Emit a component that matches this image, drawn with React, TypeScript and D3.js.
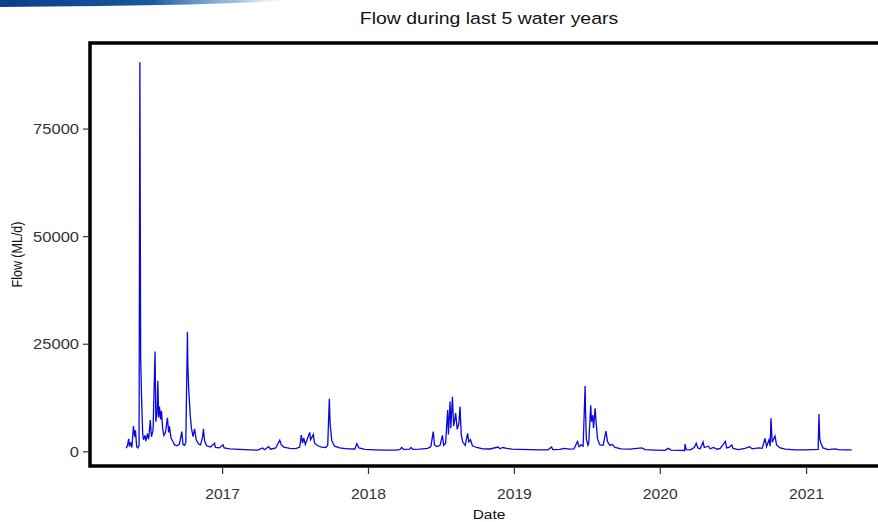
import * as d3 from "d3"

// daily flow, sampled at the turning points of the hydrograph
const dates = [
  "2016-05-05", "2016-05-08", "2016-05-11", "2016-05-13", "2016-05-16", "2016-05-19", "2016-05-23", "2016-05-26",
  "2016-05-28", "2016-05-31", "2016-06-03", "2016-06-06", "2016-06-08", "2016-06-10", "2016-06-12", "2016-06-15",
  "2016-06-17", "2016-06-21", "2016-06-23", "2016-06-27", "2016-06-30", "2016-07-04", "2016-07-07", "2016-07-11",
  "2016-07-16", "2016-07-18", "2016-07-21", "2016-07-23", "2016-07-25", "2016-07-27", "2016-07-30", "2016-08-01",
  "2016-08-04", "2016-08-07", "2016-08-11", "2016-08-16", "2016-08-19", "2016-08-21", "2016-08-25", "2016-08-29",
  "2016-09-03", "2016-09-09", "2016-09-15", "2016-09-21", "2016-09-24", "2016-09-28", "2016-10-01", "2016-10-05",
  "2016-10-06", "2016-10-08", "2016-10-12", "2016-10-15", "2016-10-19", "2016-10-23", "2016-10-27", "2016-11-02",
  "2016-11-07", "2016-11-12", "2016-11-14", "2016-11-17", "2016-11-22", "2016-12-02", "2016-12-12", "2016-12-14",
  "2016-12-24", "2017-01-02", "2017-01-05",
  "2017-01-19", "2017-02-13", "2017-03-10", "2017-03-30", "2017-04-11", "2017-04-16", "2017-04-26", "2017-05-01",
  "2017-05-14", "2017-05-24", "2017-05-28", "2017-06-03", "2017-06-18", "2017-07-03", "2017-07-13", "2017-07-17",
  "2017-07-20", "2017-07-23", "2017-07-27", "2017-07-30", "2017-08-07", "2017-08-09", "2017-08-12", "2017-08-16",
  "2017-08-19", "2017-08-27", "2017-09-06", "2017-09-16", "2017-09-21", "2017-09-25", "2017-09-27", "2017-10-01",
  "2017-10-08", "2017-10-21", "2017-11-10", "2017-11-28", "2017-12-03", "2017-12-08", "2017-12-23",
  "2018-01-17", "2018-02-11", "2018-03-08", "2018-03-20", "2018-03-25", "2018-03-30", "2018-04-14", "2018-04-17",
  "2018-04-22", "2018-05-09", "2018-05-29", "2018-06-06", "2018-06-12", "2018-06-15", "2018-06-21", "2018-06-29",
  "2018-07-05", "2018-07-08", "2018-07-13", "2018-07-18", "2018-07-20", "2018-07-24", "2018-07-26", "2018-07-30",
  "2018-08-02", "2018-08-05", "2018-08-07", "2018-08-11", "2018-08-15", "2018-08-18", "2018-08-21", "2018-08-25",
  "2018-08-31", "2018-09-06", "2018-09-09", "2018-09-13", "2018-09-18", "2018-09-29", "2018-10-14", "2018-11-01",
  "2018-11-21", "2018-11-26", "2018-12-03", "2018-12-13", "2018-12-26",
  "2019-01-15", "2019-02-09", "2019-03-06", "2019-03-26", "2019-04-04", "2019-04-07", "2019-04-25", "2019-05-05",
  "2019-05-18", "2019-05-30", "2019-06-08", "2019-06-12", "2019-06-17", "2019-06-22", "2019-06-27", "2019-06-28",
  "2019-06-30", "2019-07-04", "2019-07-06", "2019-07-11", "2019-07-13", "2019-07-16", "2019-07-18", "2019-07-22",
  "2019-07-24", "2019-07-28", "2019-08-03", "2019-08-11", "2019-08-18", "2019-08-22", "2019-08-28", "2019-09-03",
  "2019-09-10", "2019-09-25", "2019-10-17", "2019-11-16", "2019-11-24", "2019-12-19",
  "2020-01-13", "2020-01-21", "2020-01-28", "2020-02-19", "2020-03-02", "2020-03-03", "2020-03-06", "2020-03-16",
  "2020-03-26", "2020-03-31", "2020-04-04", "2020-04-10", "2020-04-17", "2020-04-20", "2020-04-30", "2020-05-05",
  "2020-05-13", "2020-05-22", "2020-05-30", "2020-06-12", "2020-06-15", "2020-06-22", "2020-06-28", "2020-07-01",
  "2020-07-14", "2020-07-31", "2020-08-11", "2020-08-18", "2020-09-02", "2020-09-12", "2020-09-19", "2020-09-23",
  "2020-09-29", "2020-10-02", "2020-10-04", "2020-10-07", "2020-10-14", "2020-10-18", "2020-10-27", "2020-11-09",
  "2020-12-04", "2020-12-29",
  "2021-01-15", "2021-01-30", "2021-02-01", "2021-02-03", "2021-02-06", "2021-02-11", "2021-02-24", "2021-03-13",
  "2021-03-21", "2021-04-07", "2021-04-24",
]

const flows = [
  800, 1500, 3000, 1200, 2200, 1000, 6000, 3500,
  5000, 1200, 900, 1500, 90500, 22000, 13500, 4400,
  2800, 3800, 2500, 4200, 2900, 7400, 3500, 5000,
  23300, 7000, 9000, 16500, 8000, 10500, 7500, 9500,
  5500, 3800, 4400, 7900, 4500, 5900, 3200, 2500,
  1600, 1400, 1800, 4700, 1700, 1500, 2200, 27900,
  20200, 15000, 8500, 5500, 3500, 5300, 2800, 1800,
  1600, 3500, 5300, 2500, 1400, 1100, 2000, 1000,
  900, 1600, 900,
  700, 550, 450, 400, 900, 500, 1200, 600,
  900, 2700, 1600, 1100, 800, 750, 1100, 3900,
  2000, 3200, 1700, 2500, 4500, 2800, 3300, 4000,
  2000, 1400, 1100, 1000, 1500, 12300, 6500, 2700,
  1300, 900, 700, 650, 1900, 900, 550,
  450, 400, 380, 500, 1000, 550, 600, 1000,
  550, 600, 800, 1200, 4700, 1600, 1200, 1500,
  3800, 1500, 2000, 9700, 4000, 11700, 5500, 12800,
  6000, 7500, 9000, 5200, 6500, 10500, 4000, 2200,
  1500, 4300, 2300, 2800, 1400, 1000, 700, 650,
  1100, 700, 1000, 800, 600,
  550, 500, 450, 450, 1100, 500, 550, 800,
  600, 700, 2400, 1200, 1600, 1300, 15300, 9700,
  3000, 1500, 2000, 10800, 7000, 8500, 5500, 10100,
  7400, 3000, 1600, 1500, 4800, 2400, 1500, 1700,
  1000, 700, 600, 900, 500, 400,
  350, 800, 400, 350, 300, 1800, 500, 450,
  1000, 2000, 900, 700, 2300, 1000, 1300, 700,
  1000, 600, 800, 2400, 900, 1100, 1600, 800,
  500, 800, 1200, 700, 900, 800, 3100, 1200,
  2800, 1300, 7800, 2200, 3700, 1600, 900, 600,
  450, 450,
  500, 550, 8800, 3000, 2000, 900, 500, 700,
  500, 450, 450,
]

const yTicks = [0, 25000, 50000, 75000]
const xTickYears = [2017, 2018, 2019, 2020, 2021]

const W = 878
const H = 522
const panel = { left: 90, top: 43, right: 888, bottom: 466 }
const FONT = "'Liberation Sans', Arial, sans-serif"
// the source image is stretched sideways, so the lettering is too
const SX = 1.18

export default function App() {
  const parse = d3.timeParse("%Y-%m-%d")
  const data = dates.map((d, i) => ({ date: parse(d)!, flow: flows[i] }))

  // ggplot-style 5% expansion of the date range
  const [d0, d1] = d3.extent(data, (d) => d.date) as [Date, Date]
  const pad = (d1.getTime() - d0.getTime()) * 0.05
  const x = d3
    .scaleTime()
    .domain([new Date(d0.getTime() - pad), new Date(d1.getTime() + pad)])
    .range([panel.left, panel.right])

  const y = d3.scaleLinear().domain([-3300, 95000]).range([panel.bottom, panel.top])

  const line = d3
    .line<{ date: Date; flow: number }>()
    .x((d) => x(d.date))
    .y((d) => y(d.flow))

  return (
    <svg
      width={W}
      height={H}
      style={{ position: "absolute", left: 0, top: 0, background: "#fff" }}
      fontFamily={FONT}
    >
      <defs>
        <linearGradient id="banner" x1="0" x2="1" y1="0" y2="0">
          <stop offset="0" stopColor="#0b3f86" />
          <stop offset="0.5" stopColor="#1657a0" />
          <stop offset="0.8" stopColor="#6d9bd0" stopOpacity="0.6" />
          <stop offset="1" stopColor="#ffffff" stopOpacity="0" />
        </linearGradient>
        <clipPath id="panel-clip">
          <rect x={panel.left} y={panel.top} width={panel.right - panel.left} height={panel.bottom - panel.top} />
        </clipPath>
      </defs>

      <path d="M0,0 L300,0 L260,2 L190,4.5 L100,6 L0,7 Z" fill="url(#banner)" />

      <g transform={`translate(${(panel.left + panel.right) / 2},24) scale(${SX},1)`}>
        <text textAnchor="middle" fontSize={16.5} fill="#111">
          Flow during last 5 water years
        </text>
      </g>

      <path d={line(data) ?? ""} fill="none" stroke="#0808dd" strokeWidth={1.3} clipPath="url(#panel-clip)" />

      <rect
        x={panel.left}
        y={panel.top}
        width={panel.right - panel.left}
        height={panel.bottom - panel.top}
        fill="none"
        stroke="#000"
        strokeWidth={3.5}
      />

      {yTicks.map((t) => (
        <g key={t} transform={`translate(0,${y(t)})`}>
          <line x1={panel.left - 7} x2={panel.left - 2} stroke="#333" strokeWidth={1.2} />
          <g transform={`translate(${panel.left - 11},0) scale(${SX},1)`}>
            <text dy="0.36em" textAnchor="end" fontSize={14} fill="#333">
              {t}
            </text>
          </g>
        </g>
      ))}

      {xTickYears.map((yr) => {
        const px = x(new Date(yr, 0, 1))
        return (
          <g key={yr} transform={`translate(${px},0)`}>
            <line y1={panel.bottom + 2} y2={panel.bottom + 8} stroke="#333" strokeWidth={1.2} />
            <g transform={`translate(0,${panel.bottom + 33}) scale(1.12,1)`}>
              <text textAnchor="middle" fontSize={14} fill="#333">
                {yr}
              </text>
            </g>
          </g>
        )
      })}

      <g transform={`translate(${(panel.left + panel.right) / 2},519) scale(1.15,1)`}>
        <text textAnchor="middle" fontSize={13.5} fill="#111">
          Date
        </text>
      </g>
      <g transform={`translate(22,${(panel.top + panel.bottom) / 2}) rotate(-90) scale(1,1.15)`}>
        <text textAnchor="middle" fontSize={12.5} fill="#111">
          Flow (ML/d)
        </text>
      </g>
    </svg>
  )
}
